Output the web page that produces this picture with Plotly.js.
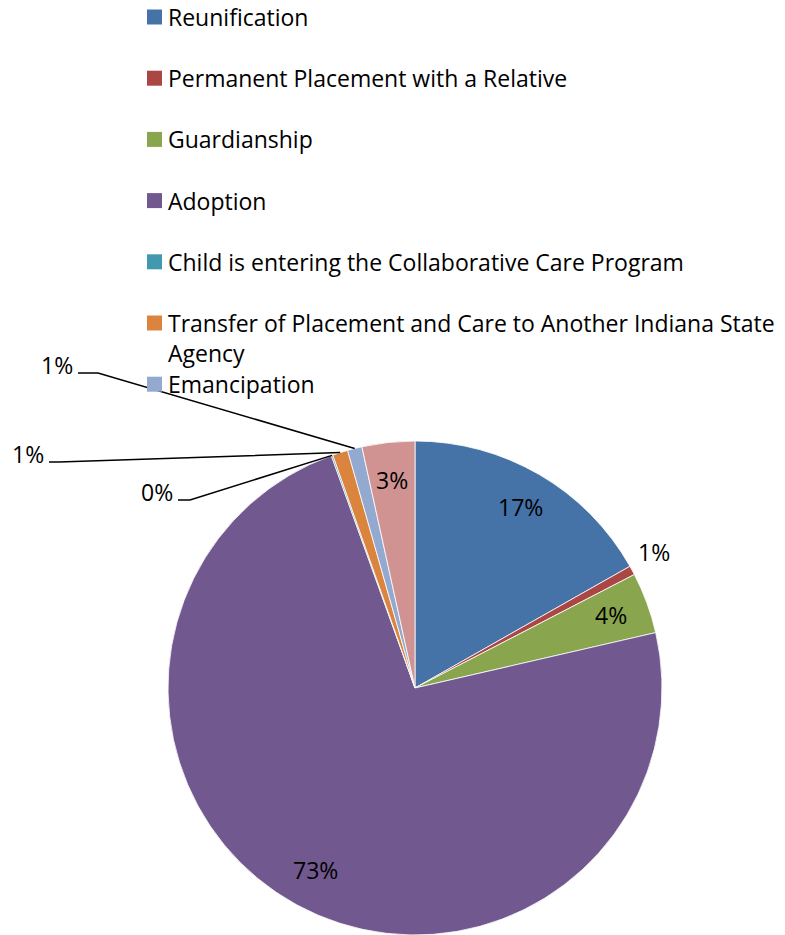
<!DOCTYPE html>
<html>
<head>
<meta charset="utf-8">
<script src="https://cdn.plot.ly/plotly-3.0.1.min.js"></script>
<style>html,body{margin:0;padding:0;background:#fff;}#chart{width:785px;height:935px;}</style>
</head>
<body>
<div id="chart"></div>
<script>
// ---- data ----
const categories = [
  'Reunification',
  'Permanent Placement with a Relative',
  'Guardianship',
  'Adoption',
  'Child is entering the Collaborative Care Program',
  'Transfer of Placement and Care to Another Indiana State Agency',
  'Emancipation',
  'Other'
];
const values = [16.8, 0.6, 4.0, 73.1, 0.1, 1.0, 0.95, 3.45];
const colors = ['#4572A7', '#AA4643', '#89A54E', '#71588F', '#4198AF', '#DB843D', '#93A9CF', '#D19392'];
const legendCount = 7; // the legend shows the first seven categories

// ---- layout constants (pixels) ----
const W = 785, H = 935;
const CX = 415, CY = 688, R = 247;
const FONT = 'Open Sans, Noto Sans, sans-serif';
const FS = 23;
const px = x => x / W;
const py = y => 1 - y / H;

// label placement per slice: 'in' = inside, 'out' = just outside, 'lead' = leader line
const labelMode = ['in', 'out', 'in', 'in', 'lead', 'lead', 'lead', 'in'];
const leaderText = {4: [157, 493], 5: [28, 455], 6: [57, 366]};
const leaderBend = {4: 12, 5: 10, 6: 20};

const total = values.reduce((a, b) => a + b, 0);
const pctText = values.map(v => Math.round(v / total * 100) + '%');

// mid angles (clockwise from 12 o'clock)
let cum = 0;
const mids = values.map(v => { const m = (cum + v / 2) / total * 2 * Math.PI; cum += v; return m; });
const pt = (a, r) => [CX + r * Math.sin(a), CY - r * Math.cos(a)];

const annotations = [];
const shapes = [];

values.forEach((v, i) => {
  const mode = labelMode[i];
  if (mode === 'in') {
    const [x, y] = pt(mids[i], R * 0.845);
    annotations.push({x: px(x), y: py(y - 1), xref: 'paper', yref: 'paper', text: pctText[i],
      showarrow: false, xanchor: 'center', yanchor: 'middle', font: {family: FONT, size: FS, color: '#000'}});
  } else if (mode === 'out') {
    const [x, y] = pt(mids[i], R * 1.11);
    annotations.push({x: px(x - 2), y: py(y - 5), xref: 'paper', yref: 'paper', text: pctText[i],
      showarrow: false, xanchor: 'center', yanchor: 'middle', font: {family: FONT, size: FS, color: '#000'}});
  } else {
    const [tx, ty] = leaderText[i];
    annotations.push({x: px(tx), y: py(ty - 1), xref: 'paper', yref: 'paper', text: pctText[i],
      showarrow: false, xanchor: 'center', yanchor: 'middle', font: {family: FONT, size: FS, color: '#000'}});
    const [ax, ay] = pt(mids[i], R);
    const sx = tx + 21, sy = ty + 7;
    const bx = sx + leaderBend[i];
    shapes.push({type: 'path', xref: 'paper', yref: 'paper',
      path: `M ${px(sx)},${py(sy)} L ${px(bx)},${py(sy)} L ${px(ax)},${py(ay)}`,
      line: {color: '#000', width: 1.5}});
  }
});

// legend drawn manually (first seven categories)
const LEG_X = 147, LEG_Y0 = 17, LEG_STEP = 61.2, SQ = 15;
for (let i = 0; i < legendCount; i++) {
  const cy = LEG_Y0 + i * LEG_STEP;
  shapes.push({type: 'rect', xref: 'paper', yref: 'paper',
    x0: px(LEG_X), x1: px(LEG_X + SQ), y0: py(cy - SQ / 2), y1: py(cy + SQ / 2),
    fillcolor: colors[i], line: {width: 0}});
  annotations.push({x: px(166), y: py(cy - 18), xref: 'paper', yref: 'paper',
    text: categories[i].replace('State Agency', 'State<br>Agency'),
    showarrow: false, xanchor: 'left', yanchor: 'top', align: 'left',
    font: {family: FONT, size: FS, color: '#000'}});
}

const trace = {
  type: 'pie',
  labels: categories,
  values: values,
  sort: false,
  direction: 'clockwise',
  rotation: 0,
  textinfo: 'none',
  hoverinfo: 'label+percent',
  showlegend: false,
  marker: {colors: colors, line: {color: '#ffffff', width: 0.8}},
  domain: {x: [px(CX - R), px(CX + R)], y: [py(CY + R), py(CY - R)]}
};

const layout = {
  width: W, height: H,
  margin: {l: 0, r: 0, t: 0, b: 0},
  paper_bgcolor: '#ffffff',
  showlegend: false,
  font: {family: FONT, size: FS, color: '#000'},
  annotations: annotations,
  shapes: shapes
};

Plotly.newPlot('chart', [trace], layout, {displayModeBar: false, staticPlot: true});
</script>
</body>
</html>
